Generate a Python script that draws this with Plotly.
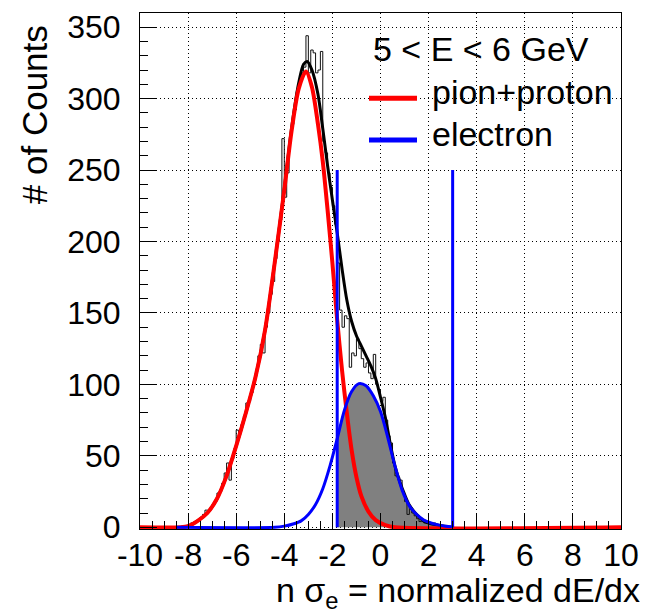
import numpy as np
import plotly.graph_objects as go

# ---------------- data ----------------
hist_start = -8.0
hist_width = 0.1
hist_counts = [
    2, 3, 3, 4, 5, 7, 9, 12, 12, 13,
    16, 18, 24, 25, 31, 38, 45, 33, 48, 55,
    68, 66, 72, 78, 87, 88, 94, 100, 110, 120,
    128, 122, 140, 150, 163, 172, 188, 200, 215, 272,
    231, 248, 270, 282, 292, 305, 310, 318, 322, 344,
    318, 334, 332, 318, 320, 333, 270, 262, 248, 238,
    225, 212, 185, 152, 140, 148, 146, 112, 122, 120,
    132, 125, 118, 112, 115, 108, 104, 121, 100, 96,
    88, 91, 75, 64, 59, 45, 36, 35, 33, 25,
    18, 9, 14, 10, 8, 6, 4, 4, 3, 3,
    3, 2, 3, 2, 1, 1, 1, 0, 0, 0,
]

red_x = [-10, -8.3, -8.0, -7.6, -7.2, -6.8, -6.4, -6.0, -5.6, -5.2, -4.8, -4.4, -4.0,
         -3.7, -3.4, -3.1, -2.85, -2.6, -2.4, -2.2, -2.0, -1.8, -1.6, -1.4, -1.2,
         -1.0, -0.8, -0.5, -0.2, 0.2, 0.6, 10]
red_y = [0, 0, 0.8, 4.5, 10, 20, 36, 57, 80, 105, 138, 185, 236,
         277, 307, 319, 308, 282, 256, 222, 185, 145, 110, 80, 54,
         35, 22, 11, 5, 1.5, 0, 0]

sum_x = [-8.3, -8.0, -7.6, -7.2, -6.8, -6.4, -6.0, -5.6, -5.2, -4.8, -4.4, -4.0,
         -3.7, -3.4, -3.2, -3.05, -2.85, -2.6, -2.4, -2.2, -2.0, -1.8, -1.6, -1.4,
         -1.2, -1.0, -0.8, -0.6, -0.4, -0.2, 0.0, 0.2, 0.4, 0.6, 0.8, 1.0, 1.2,
         1.5, 1.8, 2.1, 2.4, 2.8]
sum_y = [0, 0.8, 4.5, 10, 20, 36, 57, 80, 105, 138, 185, 237,
         279, 311, 324, 326, 320, 303, 279, 253, 229, 206, 181, 159,
         144, 134, 127, 120, 113, 104, 91, 77, 59, 43, 32, 23, 15.5,
         9, 4.5, 2.5, 1.5, 0.5]

blue_x = [-8.5, -4.4, -4.0, -3.6, -3.3, -3.0, -2.7, -2.4, -2.1, -1.8, -1.5, -1.2,
          -0.9, -0.6, -0.3, 0.0, 0.3, 0.6, 0.9, 1.2, 1.5, 1.8, 2.1, 2.4, 2.7, 3.0]
blue_y = [0, 0, 0.8, 2.5, 4.5, 9, 16, 27, 43, 62, 82, 95,
          100.5, 99, 92, 81, 63, 43, 26, 15, 9, 5, 3, 1.7, 0.8, 0.4]

cut_x = [-1.8, 3.0]
cut_height = 250

x_ticks = list(range(-10, 11, 2))
y_ticks = list(range(0, 351, 50))

title_text = "5 < E < 6 GeV"
legend_names = ["pion+proton", "electron"]
x_title = "n \u03c3<sub>e</sub> = normalized dE/dx"
y_title = "# of Counts"

# ---------------- layout geometry ----------------
W, H = 656, 613
L, R, T, B = 140, 35, 9, 84
PW, PH = W - L - R, H - T - B
FONT = "Liberation Sans, Arial, sans-serif"


def px(xp):
    return (xp - L) / PW


def py(yp):
    return (H - B - yp) / PH


fig = go.Figure()

# shaded electron region under the blue curve between the cuts
fx = [x for x in blue_x if cut_x[0] <= x <= cut_x[1]]
fy = [y for x, y in zip(blue_x, blue_y) if cut_x[0] <= x <= cut_x[1]]
fig.add_trace(go.Scatter(x=fx, y=fy, mode="lines", fill="tozeroy",
                         fillcolor="#808080", line=dict(width=0, shape="spline"),
                         hoverinfo="skip", showlegend=False))

# histogram
edges = hist_start + hist_width * np.arange(len(hist_counts) + 1)
hx = np.concatenate([[edges[0]], edges])
hy = [0] + hist_counts + [hist_counts[-1]]
fig.add_trace(go.Scatter(x=hx, y=hy, mode="lines",
                         line=dict(color="#111111", width=1, shape="hv"),
                         showlegend=False))

# fit curves
fig.add_trace(go.Scatter(x=sum_x, y=sum_y, mode="lines",
                         line=dict(color="black", width=3, shape="spline", smoothing=0.8),
                         showlegend=False))
fig.add_trace(go.Scatter(x=red_x, y=red_y, mode="lines",
                         line=dict(color="#ff0000", width=4, shape="spline", smoothing=0.8),
                         showlegend=False))
fig.add_trace(go.Scatter(x=blue_x, y=blue_y, mode="lines",
                         line=dict(color="#0000ff", width=3, shape="spline", smoothing=0.8),
                         showlegend=False))

# cut lines
for cx in cut_x:
    fig.add_trace(go.Scatter(x=[cx, cx], y=[0, cut_height], mode="lines",
                             line=dict(color="#0000ff", width=3), showlegend=False))

shapes = [
    # white boxes behind title and legend
    dict(type="rect", xref="paper", yref="paper", x0=px(367), x1=px(598), y0=py(70), y1=py(14),
         fillcolor="white", line=dict(width=0), layer="between"),
    dict(type="rect", xref="paper", yref="paper", x0=px(357), x1=px(620), y0=py(160), y1=py(78),
         fillcolor="white", line=dict(width=0), layer="between"),
    # legend lines
    dict(type="line", xref="paper", yref="paper", x0=px(369), x1=px(417), y0=py(95), y1=py(95),
         line=dict(color="#ff0000", width=5), layer="above"),
    dict(type="line", xref="paper", yref="paper", x0=px(369), x1=px(417), y0=py(137), y1=py(137),
         line=dict(color="#0000ff", width=5), layer="above"),
]

annotations = [
    dict(text=title_text, xref="paper", yref="paper", x=px(481), y=py(45),
         xanchor="center", yanchor="middle", showarrow=False,
         font=dict(family=FONT, size=34, color="black")),
    dict(text=legend_names[0], xref="paper", yref="paper", x=px(430), y=py(89),
         xanchor="left", yanchor="middle", showarrow=False,
         font=dict(family=FONT, size=34, color="black")),
    dict(text=legend_names[1], xref="paper", yref="paper", x=px(430), y=py(131),
         xanchor="left", yanchor="middle", showarrow=False,
         font=dict(family=FONT, size=34, color="black")),
    dict(text=y_title, xref="paper", yref="paper", x=px(34), y=py(112),
         xanchor="center", yanchor="middle", textangle=-90, showarrow=False,
         font=dict(family=FONT, size=35, color="black")),
    dict(text=x_title, xref="paper", yref="paper", x=px(642), y=py(593),
         xanchor="right", yanchor="middle", showarrow=False,
         font=dict(family=FONT, size=34, color="black")),
]

axis_common = dict(
    showline=True, mirror=True, linecolor="black", linewidth=1,
    showgrid=True, gridcolor="black", gridwidth=1, griddash="1px,3px",
    zeroline=False, ticks="inside", tickcolor="black", tickwidth=1,
    tickfont=dict(family=FONT, size=32, color="black"),
)

fig.update_layout(
    width=W, height=H,
    margin=dict(l=L, r=R, t=T, b=B, pad=0),
    paper_bgcolor="white", plot_bgcolor="white",
    showlegend=False,
    shapes=shapes, annotations=annotations,
    xaxis=dict(range=[-10, 10], tickmode="array", tickvals=x_ticks,
               ticktext=[str(v) for v in x_ticks], ticklen=16,
               minor=dict(dtick=0.5, ticks="inside", ticklen=8, tickcolor="black", showgrid=False),
               ticklabelstandoff=-2, **axis_common),
    yaxis=dict(range=[-1.2, 359.9], tickmode="array", tickvals=y_ticks,
               ticktext=[str(v) for v in y_ticks], ticklen=17,
               minor=dict(dtick=10, ticks="inside", ticklen=8, tickcolor="black", showgrid=False),
               ticklabelstandoff=12, **axis_common),
)

fig.write_html("out.html")
